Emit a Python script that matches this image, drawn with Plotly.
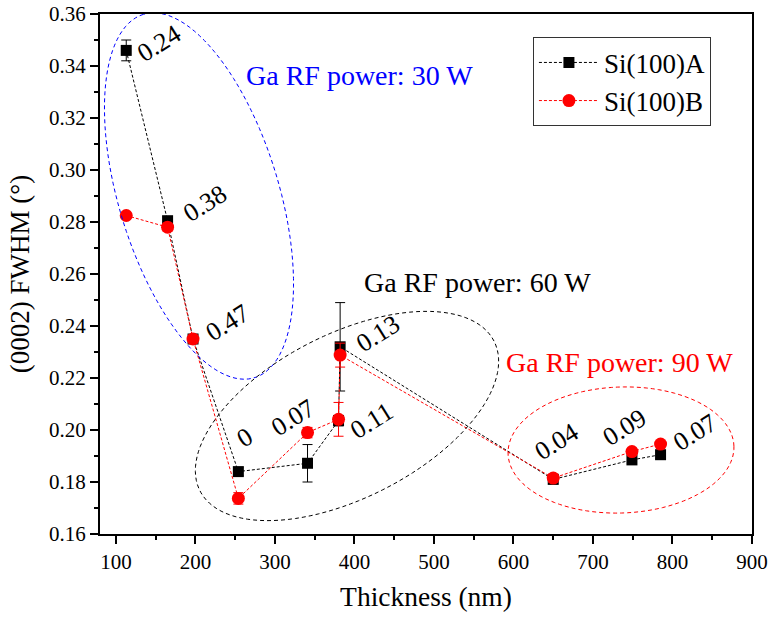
import numpy as np
import plotly.graph_objects as go

# ---- data ----
thick_A = [113, 165, 197, 254, 341, 380, 382, 650, 749, 785]
fwhm_A = [0.346, 0.2805, 0.235, 0.184, 0.1872, 0.2036, 0.232, 0.181, 0.1885, 0.1905]
err_A = [0.004, 0.0015, 0.0015, 0.0015, 0.0072, 0.002, 0.017, 0.0015, 0.0015, 0.0015]

thick_B = [113, 165, 197, 254, 341, 380, 382, 650, 749, 785]
fwhm_B = [0.2825, 0.278, 0.235, 0.1737, 0.199, 0.2041, 0.2288, 0.1815, 0.1917, 0.1946]
err_B = [0.001, 0.0015, 0.0015, 0.0022, 0.002, 0.0065, 0.0046, 0.0015, 0.001, 0.001]

labels = ["0.24", "0.38", "0.47", "0", "0.07", "0.11", "0.13", "0.04", "0.09", "0.07"]
label_x = [154, 212, 241, 262, 323, 422, 430, 655, 740, 828]
label_y = [0.3488, 0.2873, 0.2412, 0.1973, 0.205, 0.2038, 0.2373, 0.1954, 0.2008, 0.1992]

groups = ["Ga RF power: 30 W", "Ga RF power: 60 W", "Ga RF power: 90 W"]
group_colors = ["#0000FF", "#000000", "#FF0000"]
group_x = [406, 555, 733]
group_y = [0.3362, 0.2569, 0.2258]

FONT = "Liberation Serif"

# plot geometry (pixels) used to build decorative ellipses
W, H = 772, 618
ML, MR, MT, MB = 100, 20, 14, 84
X0, X1 = 80, 900
Y0, Y1 = 0.16, 0.36
PW, PH = W - ML - MR, H - MT - MB


def px_to_data(px, py):
    return X0 + (px - ML) * (X1 - X0) / PW, Y1 - (py - MT) * (Y1 - Y0) / PH


def ellipse_path(cx, cy, a, b, ang_deg):
    t = np.linspace(0, 2 * np.pi, 120)
    ang = np.deg2rad(ang_deg)
    ex = a * np.cos(t)
    ey = b * np.sin(t)
    px = cx + ex * np.cos(ang) - ey * np.sin(ang)
    py = cy - (ex * np.sin(ang) + ey * np.cos(ang))
    pts = [px_to_data(x, y) for x, y in zip(px, py)]
    return "M " + " L ".join(f"{x:.3f},{y:.5f}" for x, y in pts) + " Z"


fig = go.Figure()

fig.add_trace(go.Scatter(
    x=thick_A, y=fwhm_A, name="Si(100)A", mode="lines+markers",
    line=dict(color="black", width=1, dash="3px,2px"),
    marker=dict(symbol="square", size=11, color="black"),
    error_y=dict(type="data", array=err_A, color="black", thickness=1, width=5),
))
fig.add_trace(go.Scatter(
    x=thick_B, y=fwhm_B, name="Si(100)B", mode="lines+markers",
    line=dict(color="#FF0000", width=1, dash="3px,2px"),
    marker=dict(symbol="circle", size=13, color="#FF0000"),
    error_y=dict(type="data", array=err_B, color="#FF0000", thickness=1, width=5),
))

shapes = []
for (cx, cy, a, b, ang), col in zip(
    [(199, 196, 190, 80, 107), (347, 416, 165, 82, 27), (621, 450, 113, 63, 2)],
    ["#0000FF", "#000000", "#FF0000"],
):
    shapes.append(dict(type="path", xref="x", yref="y", path=ellipse_path(cx, cy, a, b, ang),
                       line=dict(color=col, width=1, dash="4px,3px"), layer="above"))

annotations = []
for t, x, y in zip(labels, label_x, label_y):
    annotations.append(dict(x=x, y=y, xref="x", yref="y", text=t, showarrow=False,
                            textangle=-32, font=dict(family=FONT, size=26, color="black")))
for t, c, x, y in zip(groups, group_colors, group_x, group_y):
    annotations.append(dict(x=x, y=y, xref="x", yref="y", text=t, showarrow=False,
                            font=dict(family=FONT, size=28, color=c)))

fig.update_layout(
    width=W, height=H,
    margin=dict(l=ML, r=MR, t=MT, b=MB, autoexpand=False),
    paper_bgcolor="white", plot_bgcolor="white",
    font=dict(family=FONT, size=21, color="black"),
    shapes=shapes, annotations=annotations,
    showlegend=True,
    legend=dict(x=0.664, y=0.955, xanchor="left", yanchor="top",
                bordercolor="#333333", borderwidth=1, bgcolor="white",
                font=dict(family=FONT, size=27), itemwidth=60,
                tracegroupgap=0),
)
fig.update_xaxes(
    range=[X0, X1], tickmode="array", tickvals=list(range(100, 901, 100)),
    ticks="outside", ticklen=8, tickwidth=1.5, tickcolor="black",
    minor=dict(tickmode="array", tickvals=list(range(150, 900, 100)), ticks="outside", ticklen=4, tickwidth=1.5, tickcolor="black"),
    showline=True, linecolor="black", linewidth=2, mirror=True, showgrid=False, zeroline=False,
    automargin=False,
    title=dict(text="Thickness (nm)", font=dict(family=FONT, size=27.5), standoff=14),
    tickfont=dict(family=FONT, size=21),
)
fig.update_yaxes(
    range=[Y0, Y1], tickmode="array", tickvals=[round(0.16 + 0.02 * i, 2) for i in range(11)],
    tickformat=".2f",
    ticks="outside", ticklen=8, tickwidth=1.5, tickcolor="black",
    minor=dict(tickmode="array", tickvals=[round(0.17 + 0.02 * i, 2) for i in range(10)], ticks="outside", ticklen=4, tickwidth=1.5, tickcolor="black"),
    showline=True, linecolor="black", linewidth=2, mirror=True, showgrid=False, zeroline=False,
    automargin=False,
    title=dict(text="(0002) FWHM (°)", font=dict(family=FONT, size=27), standoff=12),
    tickfont=dict(family=FONT, size=21),
)

fig.write_html("out.html")
